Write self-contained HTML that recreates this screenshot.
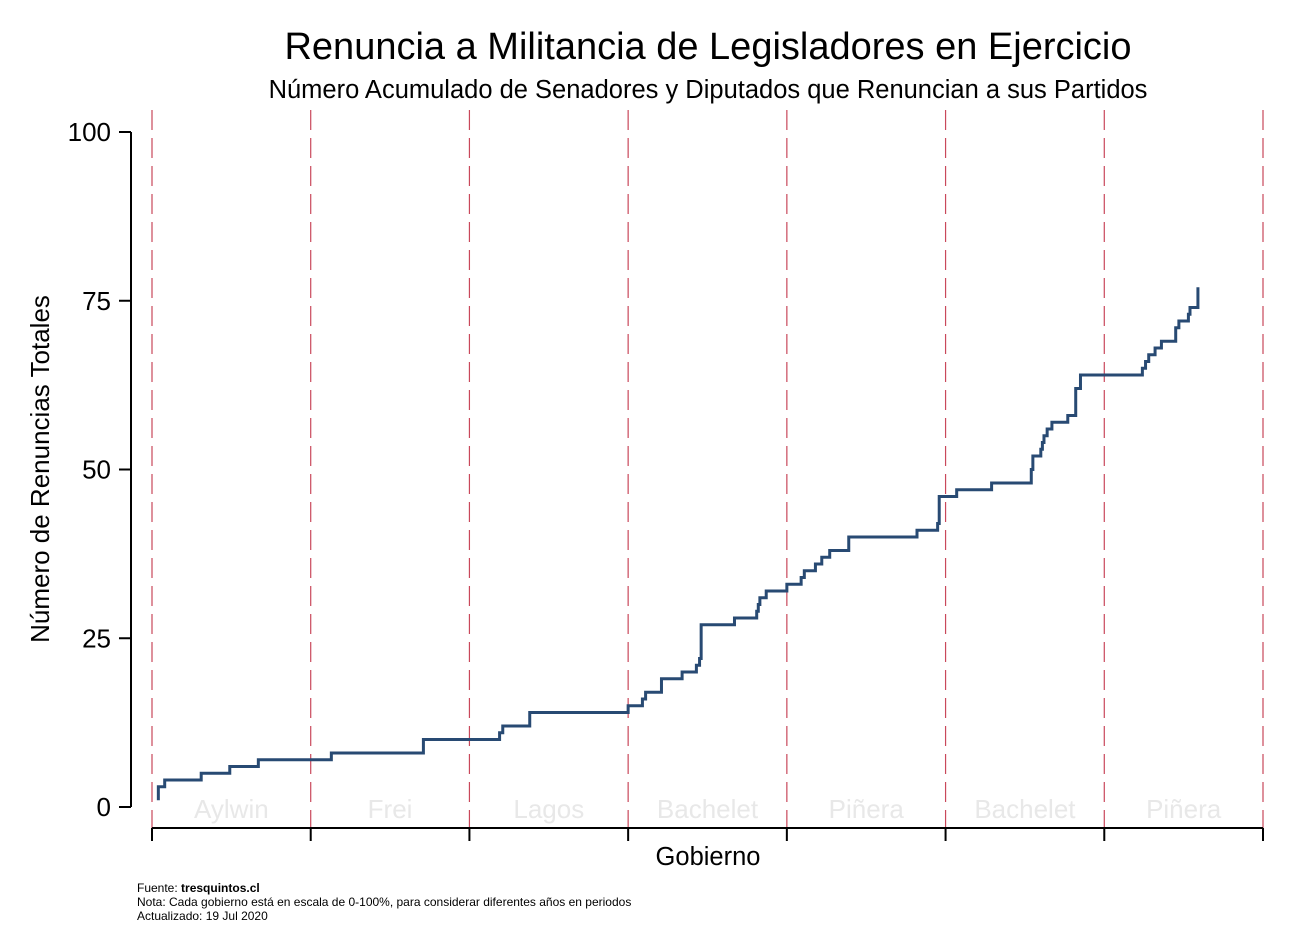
<!DOCTYPE html>
<html><head><meta charset="utf-8"><style>
body{margin:0;background:#fff;width:1306px;height:950px;overflow:hidden}
svg{display:block;font-family:"Liberation Sans",Arial,sans-serif}
</style></head><body>
<svg id="chart" width="1306" height="950" viewBox="0 0 1306 950">
<text x="708" y="59" text-anchor="middle" font-size="38">Renuncia a Militancia de Legisladores en Ejercicio</text>
<text x="708" y="98" text-anchor="middle" font-size="25.5">Número Acumulado de Senadores y Diputados que Renuncian a sus Partidos</text>
<g id="grid"></g>
<g id="yaxis"></g>
<g id="xaxis"></g>
<path id="line" fill="none" stroke="#284a73" stroke-width="3"></path>
<text transform="translate(49,469) rotate(-90)" text-anchor="middle" font-size="26">Número de Renuncias Totales</text>
<text x="708" y="865" text-anchor="middle" font-size="25.5">Gobierno</text>
<g font-size="12">
<text x="137" y="892">Fuente: <tspan font-weight="bold">tresquintos.cl</tspan></text>
<text x="137" y="906">Nota: Cada gobierno está en escala de 0-100%, para considerar diferentes años en periodos</text>
<text x="137" y="920">Actualizado: 19 Jul 2020</text>
</g>
</svg>
<script>
const governments = ["Aylwin","Frei","Lagos","Bachelet","Piñera","Bachelet","Piñera"];
const yTicks = [0,25,50,75,100];
const stepX = [0.04,0.04,0.08,0.31,0.49,0.67,1.13,1.71,2.19,2.21,2.38,3.0,3.09,3.11,3.21,3.34,3.43,3.45,3.46,3.67,3.81,3.82,3.83,3.87,4.0,4.09,4.11,4.18,4.22,4.27,4.39,4.82,4.95,4.96,5.07,5.29,5.54,5.55,5.60,5.61,5.62,5.64,5.67,5.77,5.82,5.82,5.85,6.24,6.26,6.28,6.32,6.36,6.45,6.47,6.53,6.54,6.59];
const stepY = [1,3,4,5,6,7,8,10,11,12,14,15,16,17,19,20,21,22,27,28,29,30,31,32,33,34,35,36,37,38,40,41,42,46,47,48,50,52,53,54,55,56,57,58,61,62,64,65,66,67,68,69,71,72,73,74,77];
const NS="http://www.w3.org/2000/svg";
const X0=152,X1=1263,Y0=807,Y1=132;
const xs=v=>X0+(X1-X0)*v/governments.length;
const ys=v=>Y0-(Y0-Y1)*v/100;
function mk(t,a,p){const e=document.createElementNS(NS,t);for(const k in a)e.setAttribute(k,a[k]);p.appendChild(e);return e;}
const grid=document.getElementById('grid'),ya=document.getElementById('yaxis'),xa=document.getElementById('xaxis');
for(let i=0;i<=governments.length;i++){
  const l=mk('line',{x1:xs(i),x2:xs(i),y1:110,y2:828,stroke:'#c9485b','stroke-width':1.2,'stroke-dasharray':'20 8'},grid);
  
  
  const t=mk('line',{x1:xs(i),x2:xs(i),y1:828,y2:841,stroke:'#000','stroke-width':2},xa);
  
  
}
governments.forEach((g,i)=>{
  const t=mk('text',{x:xs(i+0.5),y:818,'text-anchor':'middle','font-size':26,fill:'#e8e8e8'},grid);
  t.textContent=g;
  
  
});
const ax=mk('line',{x1:X0,x2:X1,y1:828,y2:828,stroke:'#000','stroke-width':2},xa);


const yl=mk('line',{x1:131,x2:131,y1:Y1,y2:Y0,stroke:'#000','stroke-width':2},ya);


yTicks.forEach(v=>{
  const tk=mk('line',{x1:119,x2:131,y1:ys(v),y2:ys(v),stroke:'#000','stroke-width':2},ya);
  
  
  const t=mk('text',{x:111,y:ys(v)+9,'text-anchor':'end','font-size':26},ya);
  t.textContent=v;
  
  
});
let d='M'+xs(stepX[0])+','+ys(stepY[0]);
for(let i=1;i<stepX.length;i++){d+=' H'+xs(stepX[i])+' V'+ys(stepY[i]);}
document.getElementById('line').setAttribute('d',d);
</script>
</body></html>
